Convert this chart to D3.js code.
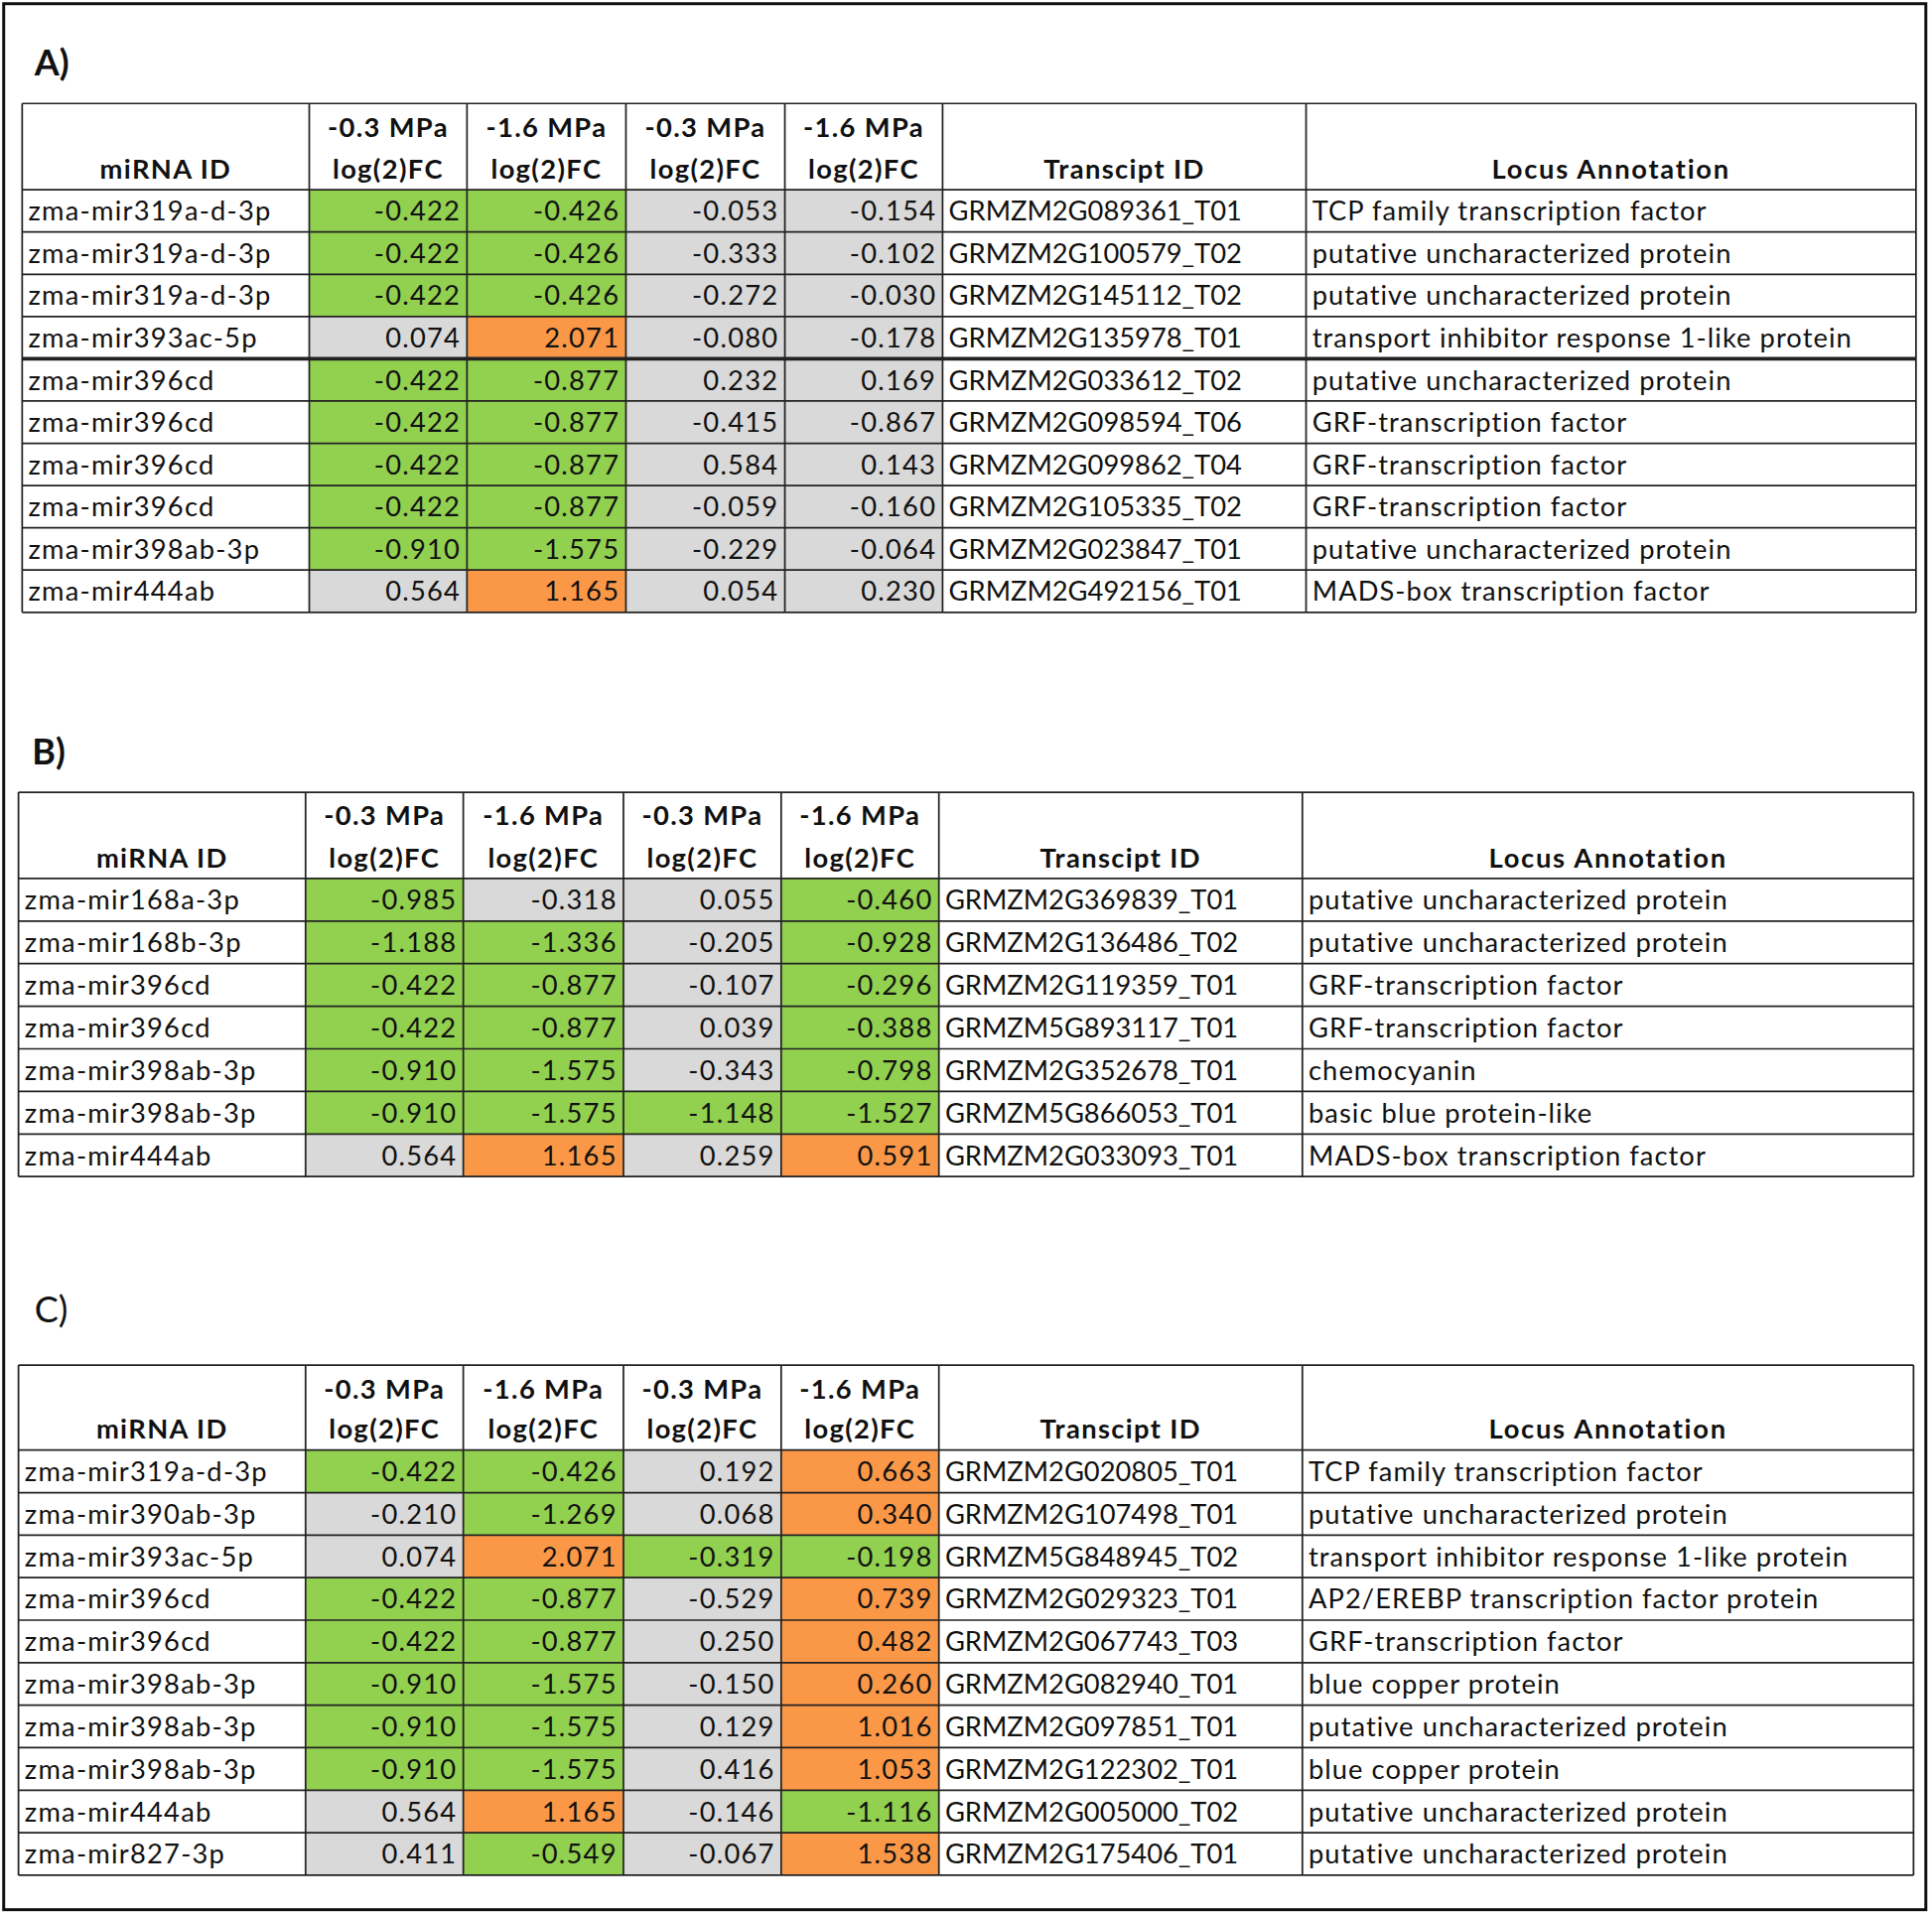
<!DOCTYPE html>
<html>
<head>
<meta charset="utf-8">
<script src="https://cdn.jsdelivr.net/npm/d3@7"></script>
<style>
  html, body { margin: 0; padding: 0; background: #fff; }
  svg { display: block; }
  text { font-family: Lato, "Open Sans", sans-serif; fill: #111; }
</style>
</head>
<body>
<script>
// ---- data ----
const headTop = ["", "-0.3 MPa", "-1.6 MPa", "-0.3 MPa", "-1.6 MPa", "", ""];
const headBottom = ["miRNA ID", "log(2)FC", "log(2)FC", "log(2)FC", "log(2)FC", "Transcipt ID", "Locus Annotation"];

// A)
const aMirna = ["zma-mir319a-d-3p", "zma-mir319a-d-3p", "zma-mir319a-d-3p", "zma-mir393ac-5p", "zma-mir396cd",
  "zma-mir396cd", "zma-mir396cd", "zma-mir396cd", "zma-mir398ab-3p", "zma-mir444ab"];
const aVals = [
  [-0.422, -0.426, -0.053, -0.154],
  [-0.422, -0.426, -0.333, -0.102],
  [-0.422, -0.426, -0.272, -0.030],
  [0.074, 2.071, -0.080, -0.178],
  [-0.422, -0.877, 0.232, 0.169],
  [-0.422, -0.877, -0.415, -0.867],
  [-0.422, -0.877, 0.584, 0.143],
  [-0.422, -0.877, -0.059, -0.160],
  [-0.910, -1.575, -0.229, -0.064],
  [0.564, 1.165, 0.054, 0.230]
];
// g = down (green), o = up (orange), n = not significant (grey)
const aSig = ["ggnn", "ggnn", "ggnn", "nonn", "ggnn", "ggnn", "ggnn", "ggnn", "ggnn", "nonn"];
const aTranscript = ["GRMZM2G089361_T01", "GRMZM2G100579_T02", "GRMZM2G145112_T02", "GRMZM2G135978_T01", "GRMZM2G033612_T02",
  "GRMZM2G098594_T06", "GRMZM2G099862_T04", "GRMZM2G105335_T02", "GRMZM2G023847_T01", "GRMZM2G492156_T01"];
const aAnnot = ["TCP family transcription factor", "putative uncharacterized protein", "putative uncharacterized protein",
  "transport inhibitor response 1-like protein", "putative uncharacterized protein", "GRF-transcription factor",
  "GRF-transcription factor", "GRF-transcription factor", "putative uncharacterized protein", "MADS-box transcription factor"];

// B)
const bMirna = ["zma-mir168a-3p", "zma-mir168b-3p", "zma-mir396cd", "zma-mir396cd", "zma-mir398ab-3p", "zma-mir398ab-3p", "zma-mir444ab"];
const bVals = [
  [-0.985, -0.318, 0.055, -0.460],
  [-1.188, -1.336, -0.205, -0.928],
  [-0.422, -0.877, -0.107, -0.296],
  [-0.422, -0.877, 0.039, -0.388],
  [-0.910, -1.575, -0.343, -0.798],
  [-0.910, -1.575, -1.148, -1.527],
  [0.564, 1.165, 0.259, 0.591]
];
const bSig = ["gnng", "ggng", "ggng", "ggng", "ggng", "gggg", "nono"];
const bTranscript = ["GRMZM2G369839_T01", "GRMZM2G136486_T02", "GRMZM2G119359_T01", "GRMZM5G893117_T01",
  "GRMZM2G352678_T01", "GRMZM5G866053_T01", "GRMZM2G033093_T01"];
const bAnnot = ["putative uncharacterized protein", "putative uncharacterized protein", "GRF-transcription factor",
  "GRF-transcription factor", "chemocyanin", "basic blue protein-like", "MADS-box transcription factor"];

// C)
const cMirna = ["zma-mir319a-d-3p", "zma-mir390ab-3p", "zma-mir393ac-5p", "zma-mir396cd", "zma-mir396cd",
  "zma-mir398ab-3p", "zma-mir398ab-3p", "zma-mir398ab-3p", "zma-mir444ab", "zma-mir827-3p"];
const cVals = [
  [-0.422, -0.426, 0.192, 0.663],
  [-0.210, -1.269, 0.068, 0.340],
  [0.074, 2.071, -0.319, -0.198],
  [-0.422, -0.877, -0.529, 0.739],
  [-0.422, -0.877, 0.250, 0.482],
  [-0.910, -1.575, -0.150, 0.260],
  [-0.910, -1.575, 0.129, 1.016],
  [-0.910, -1.575, 0.416, 1.053],
  [0.564, 1.165, -0.146, -1.116],
  [0.411, -0.549, -0.067, 1.538]
];
const cSig = ["ggno", "ngno", "nogg", "ggno", "ggno", "ggno", "ggno", "ggno", "nong", "ngno"];
const cTranscript = ["GRMZM2G020805_T01", "GRMZM2G107498_T01", "GRMZM5G848945_T02", "GRMZM2G029323_T01", "GRMZM2G067743_T03",
  "GRMZM2G082940_T01", "GRMZM2G097851_T01", "GRMZM2G122302_T01", "GRMZM2G005000_T02", "GRMZM2G175406_T01"];
const cAnnot = ["TCP family transcription factor", "putative uncharacterized protein", "transport inhibitor response 1-like protein",
  "AP2/EREBP transcription factor protein", "GRF-transcription factor", "blue copper protein",
  "putative uncharacterized protein", "blue copper protein", "putative uncharacterized protein", "putative uncharacterized protein"];

// ---- layout ----
const W = 1568, H = 1553.5;
const fill = { g: "#92d050", o: "#fb9848", n: "#d9d9d9" };
const fs = 22;
// plain hyphen for negatives, like the spreadsheet
const fmt = d3.formatLocale({ decimal: ".", thousands: ",", grouping: [3], currency: ["", ""], minus: "-" }).format(".3f");

const panels = [
  { label: "A)", bold: true, lx: 28, ly: 51, mirna: aMirna, vals: aVals, sig: aSig, tr: aTranscript, an: aAnnot,
    top: 84, headBot: 154, bot: 497, cols: [18, 251, 379, 508, 637, 765, 1060, 1555], thickAfter: 4 },
  { label: "B)", bold: true, lx: 26, ly: 610, mirna: bMirna, vals: bVals, sig: bSig, tr: bTranscript, an: bAnnot,
    top: 643, headBot: 713, bot: 955, cols: [15, 248, 376, 506, 634, 762, 1057, 1553], thickAfter: -1 },
  { label: "C)", bold: false, lx: 28, ly: 1063, mirna: cMirna, vals: cVals, sig: cSig, tr: cTranscript, an: cAnnot,
    top: 1108, headBot: 1177, bot: 1522, cols: [15, 248, 376, 506, 634, 762, 1057, 1553], thickAfter: -1 }
];

const svg = d3.select("body").append("svg")
  .attr("width", 1946).attr("height", 1928)
  .attr("viewBox", `0 0 ${W} ${H}`);

svg.append("rect").attr("width", W).attr("height", H).attr("fill", "#fff");

svg.append("rect")
  .attr("x", 3).attr("y", 3).attr("width", 1560).attr("height", 1547)
  .attr("fill", "none").attr("stroke", "#111").attr("stroke-width", 2.4);

panels.forEach(p => {
  const g = svg.append("g");
  const n = p.mirna.length;
  const y = d3.scaleLinear().domain([0, n]).range([p.headBot, p.bot]);
  const x = d3.scaleOrdinal().domain(d3.range(8)).range(p.cols);
  const rh = y(1) - y(0);

  g.append("text")
    .attr("x", p.lx).attr("y", p.ly)
    .attr("dy", "0.36em")
    .style("font-size", "29px")
    .style("font-weight", p.bold ? 700 : 400)
    .text(p.label);

  // coloured value cells
  const rows = p.mirna.map((m, i) => ({ i, m, v: p.vals[i], s: p.sig[i], t: p.tr[i], a: p.an[i] }));
  rows.forEach(r => {
    r.v.forEach((v, j) => {
      g.append("rect")
        .attr("x", x(j + 1)).attr("y", y(r.i))
        .attr("width", x(j + 2) - x(j + 1)).attr("height", rh)
        .attr("fill", fill[r.s[j]]);
    });
  });

  // header text
  headBottom.forEach((h, j) => {
    const cx = (x(j) + x(j + 1)) / 2;
    if (headTop[j]) {
      g.append("text").attr("x", cx).attr("y", p.top + 19).attr("dy", "0.36em")
        .attr("text-anchor", "middle").style("font-size", fs + "px").style("font-weight", 700)
        .style("letter-spacing", "1.1px")
        .text(headTop[j]);
    }
    g.append("text").attr("x", cx).attr("y", p.headBot - 17).attr("dy", "0.36em")
      .attr("text-anchor", "middle").style("font-size", fs + "px").style("font-weight", 700)
      .style("letter-spacing", j === 6 ? "1.4px" : "1.1px")
      .text(h);
  });

  // body text
  rows.forEach(r => {
    const cy = y(r.i) + rh / 2;
    g.append("text").attr("x", x(0) + 5).attr("y", cy).attr("dy", "0.36em")
      .style("font-size", fs + "px").style("letter-spacing", "1px").text(r.m);
    r.v.forEach((v, j) => {
      g.append("text").attr("x", x(j + 2) - 5).attr("y", cy).attr("dy", "0.36em")
        .attr("text-anchor", "end").style("font-size", fs + "px").style("letter-spacing", "1px")
        .text(fmt(v));
    });
    g.append("text").attr("x", x(5) + 5).attr("y", cy).attr("dy", "0.36em")
      .style("font-size", fs + "px").text(r.t);
    g.append("text").attr("x", x(6) + 5).attr("y", cy).attr("dy", "0.36em")
      .style("font-size", fs + "px").style("letter-spacing", "0.85px").text(r.a);
  });

  // grid lines
  const lineCol = "#222";
  d3.range(n + 1).forEach(i => {
    g.append("line")
      .attr("x1", p.cols[0]).attr("x2", p.cols[7])
      .attr("y1", y(i)).attr("y2", y(i))
      .attr("stroke", lineCol)
      .attr("stroke-width", i === p.thickAfter ? 3 : 1.4);
  });
  g.append("line").attr("x1", p.cols[0]).attr("x2", p.cols[7])
    .attr("y1", p.top).attr("y2", p.top).attr("stroke", lineCol).attr("stroke-width", 1.4);
  p.cols.forEach(cx => {
    g.append("line").attr("x1", cx).attr("x2", cx)
      .attr("y1", p.top).attr("y2", p.bot)
      .attr("stroke", lineCol).attr("stroke-width", 1.4);
  });
});
</script>
</body>
</html>
